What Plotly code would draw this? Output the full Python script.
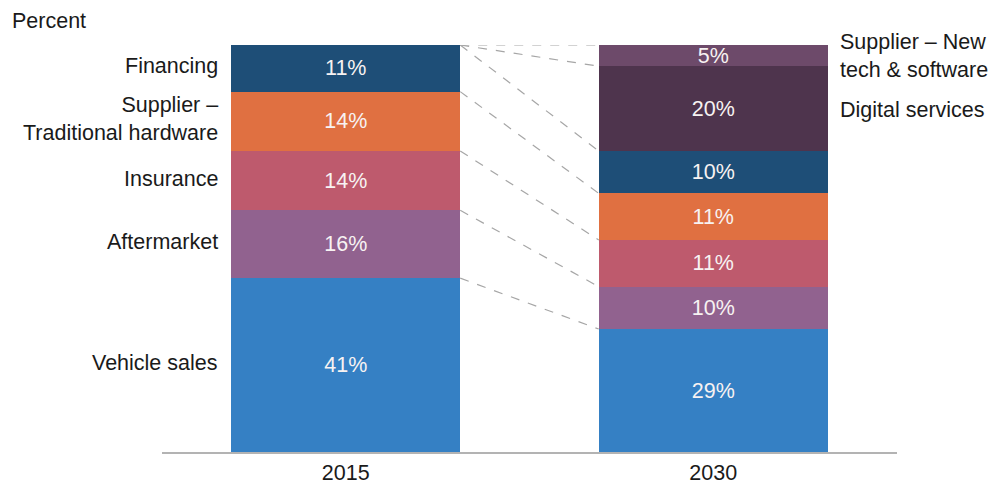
import plotly.graph_objects as go

years = ["2015", "2030"]
categories = ["Vehicle sales", "Aftermarket", "Insurance", "Supplier – Traditional hardware",
              "Financing", "Digital services", "Supplier – New tech & software"]
values_2015 = [41, 16, 14, 14, 11, 0, 0]
values_2030 = [29, 10, 11, 11, 10, 20, 5]
colors = ["#3580c4", "#91628f", "#be5a6d", "#e07041", "#1e4e77", "#4e344d", "#6d4a6a"]
left_labels = ["Vehicle sales", "Aftermarket", "Insurance", "Supplier –<br>Traditional hardware", "Financing"]
right_labels = ["Digital services", "Supplier – New<br>tech & software"]

FONT = "Liberation Sans, Arial, sans-serif"
FS = 21.5
BW = 0.623

fig = go.Figure()
for i, cat in enumerate(categories):
    vals = [values_2015[i], values_2030[i]]
    fig.add_trace(go.Bar(
        x=[0, 1], y=vals, name=cat, width=BW,
        marker=dict(color=colors[i], line=dict(width=0)),
        text=[f"{v}%" if v else "" for v in vals],
        textposition="inside", insidetextanchor="middle", textangle=0,
        textfont=dict(color="#f7f2f2", size=FS, family=FONT),
        hoverinfo="skip", showlegend=False,
    ))

# connector lines between cumulative tops
cum15, cum30 = [], []
s15 = s30 = 0
for a, b in zip(values_2015, values_2030):
    s15 += a; s30 += b
    cum15.append(s15); cum30.append(s30)
lx, ly = [], []
for a, b in zip(cum15, cum30):
    lx += [BW / 2, 1 - BW / 2, None]
    ly += [a, b, None]
fig.add_trace(go.Scatter(x=lx, y=ly, mode="lines",
                         line=dict(color="#a6a6a6", width=1.2, dash="dash"),
                         hoverinfo="skip", showlegend=False))

annotations = []
base = 0
for i, lab in enumerate(left_labels):
    v = values_2015[i]
    annotations.append(dict(x=-BW / 2, y=base + v / 2, xref="x", yref="y", text=lab,
                            showarrow=False, xanchor="right", align="right", xshift=-11, yshift=2,
                            font=dict(size=FS, color="#1a1a1a", family=FONT)))
    base += v
base30 = sum(values_2030[:5])
for j, lab in enumerate(right_labels):
    v = values_2030[5 + j]
    annotations.append(dict(x=1 + BW / 2, y=base30 + v / 2, xref="x", yref="y", text=lab,
                            showarrow=False, xanchor="left", align="left", xshift=10, yshift=-1 if j == 0 else 0,
                            font=dict(size=FS, color="#1a1a1a", family=FONT)))
    base30 += v
annotations.append(dict(x=0, y=1, xref="paper", yref="paper", xshift=-152, yshift=24,
                        text="Percent", showarrow=False, xanchor="left", yanchor="middle",
                        font=dict(size=FS, color="#1a1a1a", family=FONT)))

fig.update_layout(
    barmode="stack",
    width=1000, height=493,
    margin=dict(l=154, r=111, t=37, b=49),
    paper_bgcolor="white", plot_bgcolor="white",
    annotations=annotations,
    uniformtext=dict(minsize=FS, mode="show"),
    xaxis=dict(range=[-0.5, 1.5], tickvals=[0, 1], ticktext=years, showgrid=False, zeroline=False,
               showline=True, linecolor="#b3b3b3", linewidth=2, ticks="",
               tickfont=dict(size=FS, color="#1a1a1a", family=FONT)),
    yaxis=dict(range=[0, 96], visible=False),
    font=dict(family=FONT),
)

fig.write_html("out.html")
